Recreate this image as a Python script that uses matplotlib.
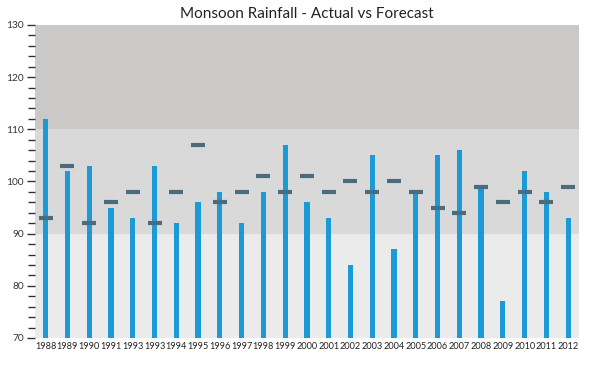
import matplotlib
matplotlib.use("Agg")
import matplotlib.pyplot as plt
from matplotlib.ticker import MultipleLocator

years = ["1988", "1989", "1990", "1991", "1993", "1993", "1994", "1995", "1996", "1997",
         "1998", "1999", "2000", "2001", "2002", "2003", "2004", "2005", "2006", "2007",
         "2008", "2009", "2010", "2011", "2012"]
actual = [112, 102, 103, 95, 93, 103, 92, 96, 98, 92,
          98, 107, 96, 93, 84, 105, 87, 98, 105, 106,
          99, 77, 102, 98, 93]
forecast = [93, 103, 92, 96, 98, 92, 98, 107, 96, 98,
            101, 98, 101, 98, 100, 98, 100, 98, 95, 94,
            99, 96, 98, 96, 99]
bands = [(70, 90, "#EBEBEB"), (90, 110, "#D9D9D9"), (110, 130, "#CBC8C8")]

plt.rcParams['font.family'] = ['Lato', 'DejaVu Sans']

fig = plt.figure(figsize=(6, 3.7), dpi=100)
ax = fig.add_axes([0.058, 0.0865, 0.907, 0.846])

for lo, hi, c in bands:
    ax.axhspan(lo, hi, color=c, zorder=0, lw=0)

x = list(range(len(years)))
ax.bar(x, actual, width=0.24, bottom=0, color="#1B9AD6", zorder=2)
ax.plot(x, forecast, linestyle='none', marker='_', markersize=10.5, markeredgewidth=3,
        color="#4B6C7C", zorder=3)

ax.set_xlim(-0.5, len(years) - 0.5)
ax.set_ylim(70, 130)
ax.set_xticks(x)
ax.set_xticklabels(years, fontsize=6.6)
ax.yaxis.set_major_locator(MultipleLocator(10))
ax.yaxis.set_minor_locator(MultipleLocator(2))
ax.tick_params(axis='y', which='major', length=6, width=1, labelsize=7.3, color='#333333', labelcolor='#333333', pad=2)
ax.tick_params(axis='y', which='minor', length=5, width=1, color='#333333')
ax.tick_params(axis='x', length=0, pad=3, labelcolor='#222222')
for s in ax.spines.values():
    s.set_visible(False)

ax.set_title("Monsoon Rainfall - Actual vs Forecast", fontsize=11, color='#222222', pad=5)

fig.savefig("out.png", dpi=100)
